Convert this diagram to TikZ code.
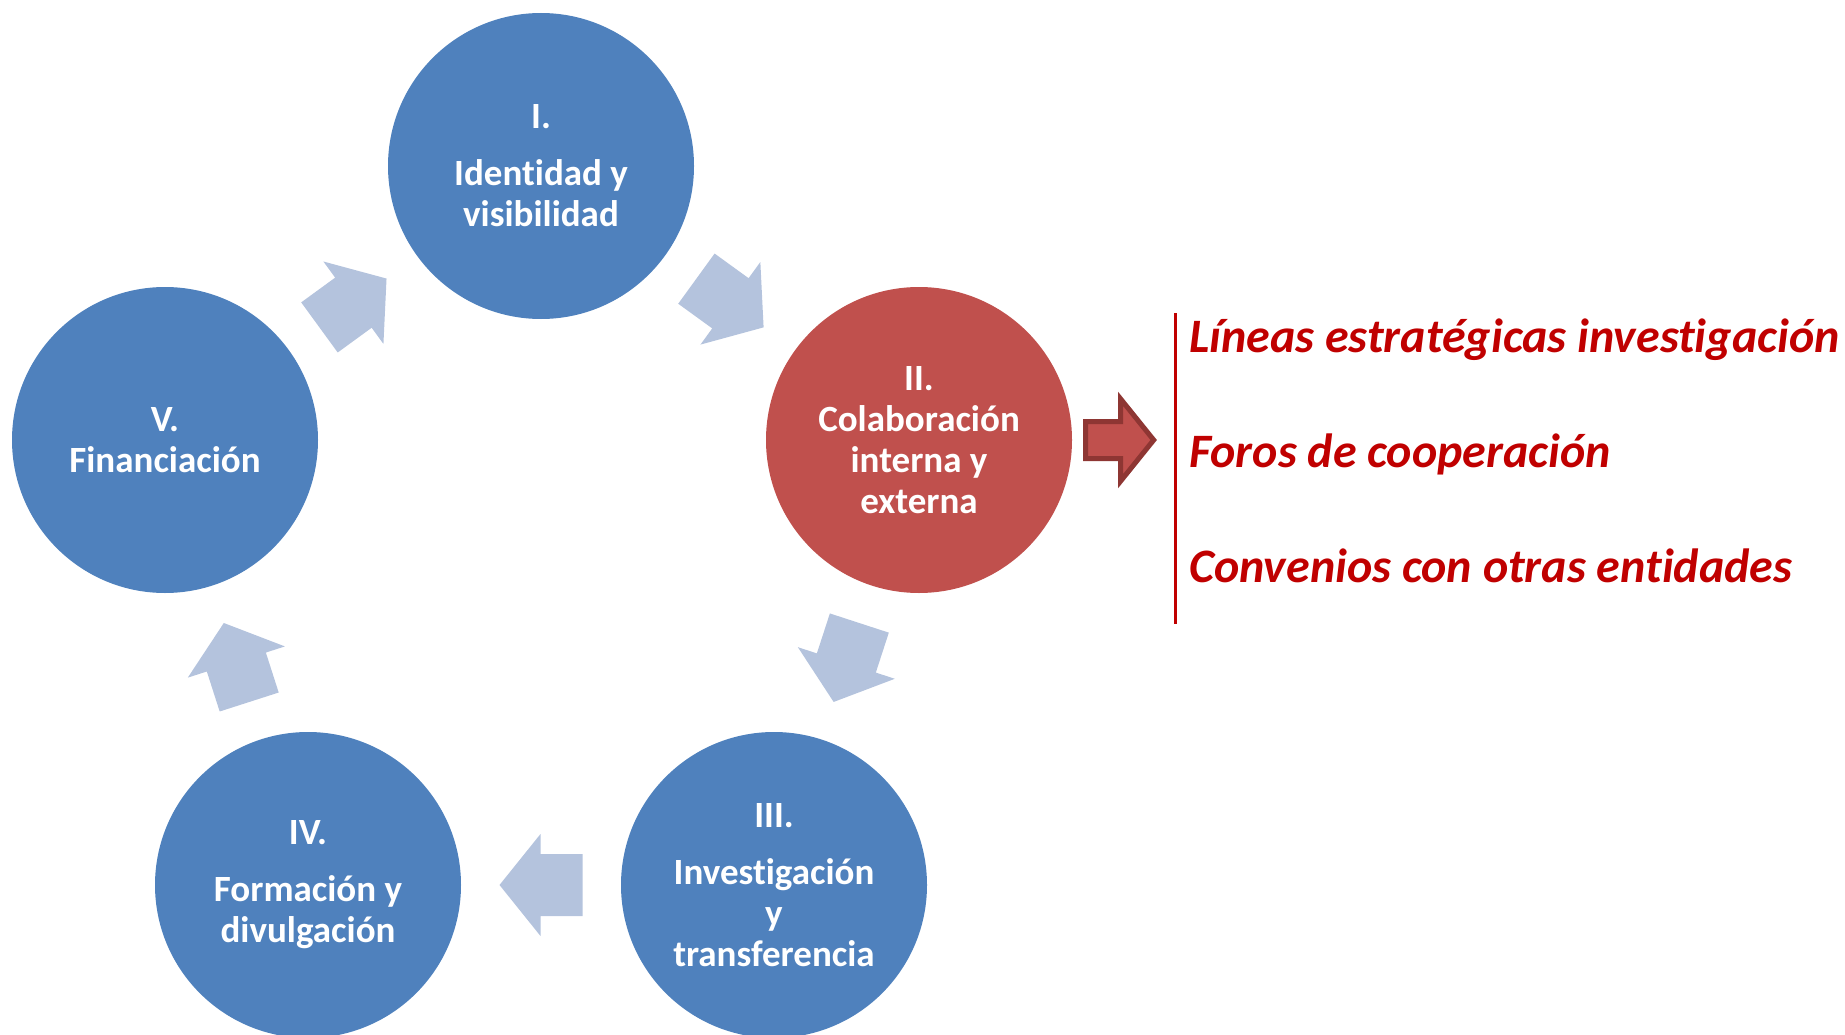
\documentclass[tikz,border=0pt]{standalone}
\usepackage{fontspec}
\setmainfont{Carlito}[RawFeature={-liga;-clig;-dlig;-calt}]
\usetikzlibrary{calc}
\definecolor{cblue}{HTML}{4F81BD}
\definecolor{cred}{HTML}{C0504D}
\definecolor{cdark}{HTML}{8E3633}
\definecolor{cgray}{HTML}{B4C3DD}
\definecolor{ctext}{HTML}{C00000}
\begin{document}
\begin{tikzpicture}[x=1pt,y=-1pt,
  circ/.style={circle, minimum size=306pt, inner sep=0pt, text=white, align=center,
    font=\fontsize{37}{41}\selectfont\bfseries},
  cyc/.style={midway, sloped, allow upside down},
  blk/.pic={\fill[cgray] (-41.5,31) -- (0.5,31) -- (0.5,51) -- (41.5,0) -- (0.5,-51)
    -- (0.5,-31) -- (-41.5,-31) -- cycle;},
  item/.style={anchor=base west, inner sep=0pt, text=ctext,
    font=\fontsize{48}{56}\selectfont\bfseries\itshape}]
\useasboundingbox (0,0) rectangle (1845,1035);
\node[circ, fill=cblue] (I) at (541,166) {I.\\[16pt]Identidad y\\visibilidad};
\node[circ, fill=cred] (II) at (919,440) {II.\\Colaboración\\interna y\\externa};
\node[circ, fill=cblue] (III) at (774,885) {III.\\[16pt]Investigación\\y\\transferencia};
\node[circ, fill=cblue] (IV) at (308,885) {IV.\\[16pt]Formación y\\divulgación};
\node[circ, fill=cblue] (V) at (165,440) {V.\\Financiación};
\path (I) -- (II) pic[cyc] {blk} coordinate[midway] (a12);
\path (II) -- (III) pic[cyc] {blk} coordinate[midway] (a23);
\path (III) -- (IV) pic[cyc] {blk} coordinate[midway] (a34);
\path (IV) -- (V) pic[cyc] {blk} coordinate[midway] (a45);
\path (V) -- (I) pic[cyc] {blk} coordinate[midway] (a51);
\coordinate (ra) at ($(II.east)+(48,0)$);
\draw[fill=cred, draw=cdark, line width=5pt, line join=miter, shift={(ra)}]
  (-34.5,18.5) -- (0.5,18.5) -- (0.5,41) -- (33.5,0) -- (0.5,-41) -- (0.5,-18.5)
  -- (-34.5,-18.5) -- cycle;
\coordinate (lt) at (1175,313);
\coordinate (lb) at (1175,624);
\draw[ctext, line width=3pt] (lt) -- (lb);
\node[item] (t1) at (1189,352) {Líneas estratégicas investigación};
\node[item] (t2) at (1189,467) {Foros de cooperación};
\node[item] (t3) at (1189,582) {Convenios con otras entidades};
\end{tikzpicture}
\end{document}
